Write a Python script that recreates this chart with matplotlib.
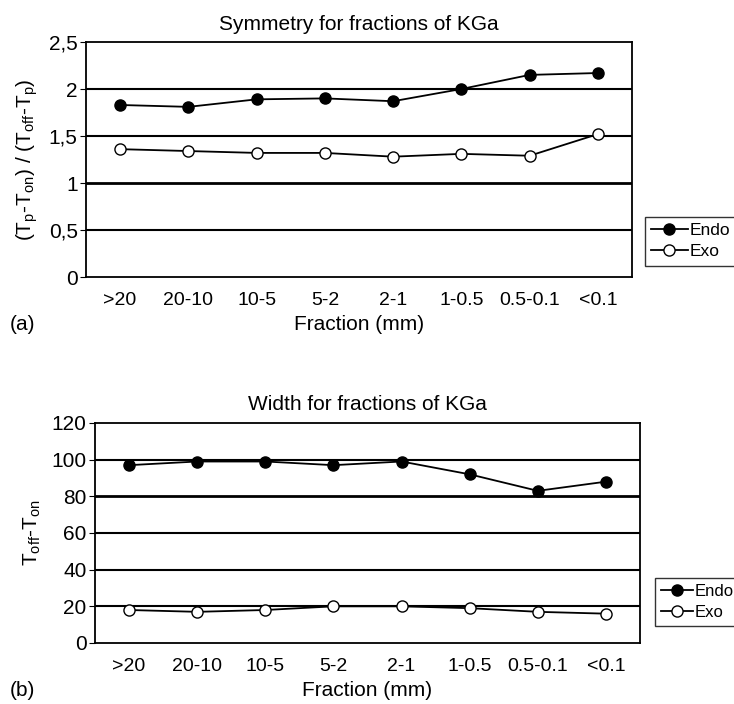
import matplotlib
matplotlib.use("Agg")
import matplotlib.pyplot as plt

categories = [">20", "20-10", "10-5", "5-2", "2-1", "1-0.5", "0.5-0.1", "<0.1"]
sym_endo = [1.83, 1.81, 1.89, 1.90, 1.87, 2.00, 2.15, 2.17]
sym_exo = [1.36, 1.34, 1.32, 1.32, 1.28, 1.31, 1.29, 1.52]
wid_endo = [97, 99, 99, 97, 99, 92, 83, 88]
wid_exo = [18, 17, 18, 20, 20, 19, 17, 16]
sym_ticks = [0, 0.5, 1, 1.5, 2, 2.5]
sym_ticklabels = ["0", "0,5", "1", "1,5", "2", "2,5"]
wid_ticks = [0, 20, 40, 60, 80, 100, 120]

plt.rcParams['font.family'] = ['Liberation Sans', 'DejaVu Sans']
plt.rcParams['mathtext.fontset'] = 'custom'
plt.rcParams['mathtext.rm'] = 'Liberation Sans'
plt.rcParams['mathtext.it'] = 'Liberation Sans'

W, H = 734, 704
fig = plt.figure(figsize=(W/100, H/100), dpi=100)

def make_ax(l, r, t, b):
    return fig.add_axes([l/W, 1 - b/H, (r-l)/W, (b-t)/H])

ax1 = make_ax(86, 632, 42, 277)
ax2 = make_ax(95, 640, 423, 643)

x = list(range(len(categories)))

def style(ax, ticks, labels, ylim, title, ylabel, thick=None):
    ax.set_xlim(-0.5, len(categories) - 0.5)
    ax.set_ylim(*ylim)
    ax.set_yticks(ticks)
    ax.set_yticklabels(labels)
    ax.set_xticks(x)
    ax.set_xticklabels(categories)
    ax.tick_params(axis='x', length=0, pad=11, labelsize=14)
    ax.tick_params(axis='y', length=4, direction='out', labelsize=15, pad=2)
    for t in ticks[1:-1]:
        lw = 2.0 if (thick is not None and t == thick) else 1.5
        ax.axhline(t, color='black', lw=lw, zorder=1)
    for s in ax.spines.values():
        s.set_linewidth(1.3)
    ax.set_title(title, fontsize=15, pad=9)
    ax.set_ylabel(ylabel, fontsize=15, labelpad=6)
    ax.set_xlabel("Fraction (mm)", fontsize=15, labelpad=4)

style(ax1, sym_ticks, sym_ticklabels, (0, 2.5), "Symmetry for fractions of KGa",
      r"$\mathregular{(T_p\text{-}T_{on})\ /\ (T_{off}\text{-}T_p)}$", thick=1)
style(ax2, wid_ticks, [str(t) for t in wid_ticks], (0, 120), "Width for fractions of KGa",
      r"$\mathregular{T_{off}\text{-}T_{on}}$", thick=80)

for ax, endo, exo, bb, fs, hl in [(ax1, sym_endo, sym_exo, (645/W, 1 - 217/H), 12.5, 2.1),
                                  (ax2, wid_endo, wid_exo, (655/W, 1 - 578/H), 12, 1.9)]:
    ax.plot(x, endo, color='black', lw=1.3, marker='o', ms=8, mfc='black', mec='black', label='Endo', zorder=3)
    ax.plot(x, exo, color='black', lw=1.3, marker='o', ms=8, mfc='white', mec='black', label='Exo', zorder=3)
    leg = fig.legend(handles=ax.get_lines()[-2:], loc='upper left', bbox_to_anchor=bb,
                     bbox_transform=fig.transFigure, frameon=True, fancybox=False,
                     edgecolor='black', handlelength=hl, handletextpad=0.1,
                     borderpad=0.35, labelspacing=0.35, fontsize=fs, borderaxespad=0)
    leg.get_frame().set_linewidth(1.0)

fig.text(10/W, 1 - 324/H, "(a)", fontsize=15, va='center', ha='left')
fig.text(10/W, 1 - 690/H, "(b)", fontsize=15, va='center', ha='left')

fig.savefig("out.png", dpi=100)
